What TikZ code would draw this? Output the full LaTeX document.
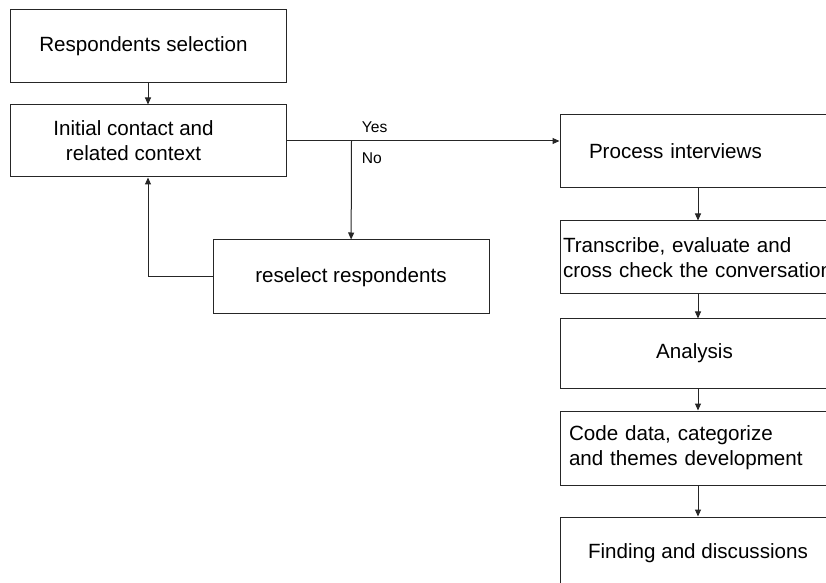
\documentclass[tikz,border=0pt]{standalone}
\usepackage{fontspec}
\setmainfont{Liberation Sans}
\usetikzlibrary{arrows.meta, positioning}

\begin{document}
\begin{tikzpicture}[
      x=0.5pt, y=-0.5pt,
      stage/.style={rectangle, draw=black!85, line width=0.5pt, minimum width=138pt, minimum height=36.5pt, inner sep=0pt, align=center, font=\fontsize{10.3}{12.5}\selectfont},
      tag/.style={inner sep=1pt, font=\fontsize{7.8}{9}\selectfont},
      arrow/.style={-{Triangle[length=3.5pt, width=3pt]}, line width=0.5pt, draw=black!85}
      ]

      \useasboundingbox (0,0) rectangle (826,583);
      \clip (0,0) rectangle (826,583);

      % Left column
      \node[stage] (resp) at (148,46.5) {Respondents selection\hspace*{4.5pt}};
      \node[stage, below=10.5pt of resp, minimum height=36pt] (init) {Initial contact and\hspace*{14.5pt}\\related context\hspace*{14.5pt}};
      \node[stage, minimum height=37pt] (resel) at (351,277) {reselect respondents};

      % Right column
      \node[stage, align=left, text width=109pt, inner xsep=14.5pt] (proc) at (698,151.5) {Process interviews};
      \node[stage, below=16pt of proc, align=left, text width=135pt, inner xsep=1.5pt] (trans) {Transcribe, evaluate and\\cross check the conversation};
      \node[stage, below=12pt of trans, minimum height=34.5pt] (anal) {Analysis\hspace*{3.5pt}};
      \node[stage, below=11pt of anal, minimum height=37pt, align=left, text width=129pt, inner xsep=4.5pt] (code) {Code data, categorize\\and themes development};
      \node[stage, below=15.5pt of code] (find) {Finding and discussions};

      % Decision split
      \coordinate[right=32.5pt of init.east] (split);
      \node[tag, above right=3pt and 4pt of split] (yes) {Yes};
      \node[tag, below right=4.75pt and 4pt of split] (no) {No};

      % Arrows - left side
      \draw[arrow] (resp) -- (init);
      \draw[arrow] (init.east) -- (init.east -| proc.west);
      \draw[arrow] (split) -- (resel);
      \draw[arrow] (resel.west) -| (init.south);

      % Arrows - right column
      \draw[arrow] (proc) -- (trans);
      \draw[arrow] (trans) -- (anal);
      \draw[arrow] (anal) -- (code);
      \draw[arrow] (code) -- (find);

   \end{tikzpicture}
\end{document}
